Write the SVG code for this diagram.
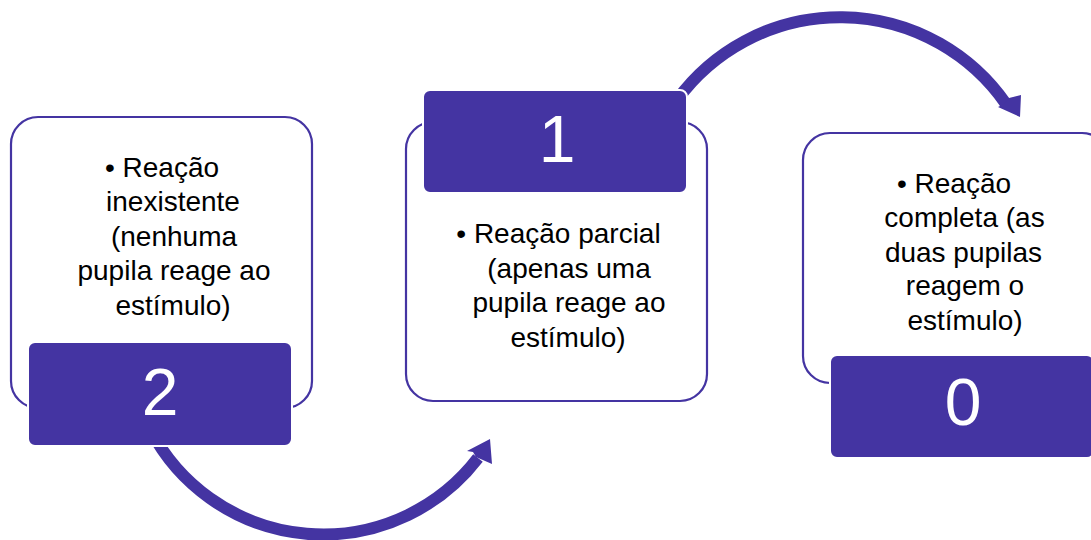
<svg xmlns="http://www.w3.org/2000/svg" width="1091" height="540" viewBox="0 0 1091 540">
<style>
.outer{fill:#fff;stroke:#4434a2;stroke-width:2.2}
.dark{fill:#4434a2;stroke:#fff;stroke-width:2}
.t{font-family:"Liberation Sans",Arial,sans-serif;font-size:28px;fill:#000;text-anchor:middle}
.n{font-family:"Liberation Sans",Arial,sans-serif;font-size:66px;fill:#fff;text-anchor:middle}
.arc{fill:none;stroke:#4434a2;stroke-width:12}
.head{fill:#4434a2}
</style>
<rect width="1091" height="540" fill="#fff"/>
<g id="connectors">
<path class="arc" d="M 150.5 430 A 195 195 0 0 0 478 458"/>
<polygon class="head" points="467,451 490,439 492,464 476,457 473,452"/>
<path class="arc" d="M 677 100 A 202 202 0 0 1 1006 104"/>
<polygon class="head" points="998,107 1004,104 1009,98 1021,95 1020,117"/>
</g>
<g id="node-2">
<rect class="outer" x="11" y="117" width="301" height="291" rx="27"/>
<text class="t" x="162" y="177">• Reação</text>
<text class="t" x="173" y="211">inexistente</text>
<text class="t" x="174" y="246">(nenhuma</text>
<text class="t" x="174" y="280">pupila reage ao</text>
<text class="t" x="173" y="315">estímulo)</text>
<rect class="dark" x="28" y="342" width="264" height="104" rx="7"/>
<text class="n" x="160" y="415">2</text>
</g>
<g id="node-1">
<rect class="outer" x="406" y="122" width="301" height="279" rx="27"/>
<rect class="dark" x="423" y="90" width="264" height="103" rx="7"/>
<text class="n" x="557" y="162">1</text>
<text class="t" x="558.5" y="243">• Reação parcial</text>
<text class="t" x="569" y="278">(apenas uma</text>
<text class="t" x="569" y="312">pupila reage ao</text>
<text class="t" x="568" y="347">estímulo)</text>
</g>
<g id="node-0">
<rect class="outer" x="803" y="133" width="306" height="250" rx="27"/>
<text class="t" x="954" y="193">• Reação</text>
<text class="t" x="964.5" y="227">completa (as</text>
<text class="t" x="963.5" y="262">duas pupilas</text>
<text class="t" x="965" y="295">reagem o</text>
<text class="t" x="965" y="330">estímulo)</text>
<rect class="dark" x="830" y="355" width="264" height="103" rx="7"/>
<text class="n" x="963" y="425">0</text>
</g>
</svg>
